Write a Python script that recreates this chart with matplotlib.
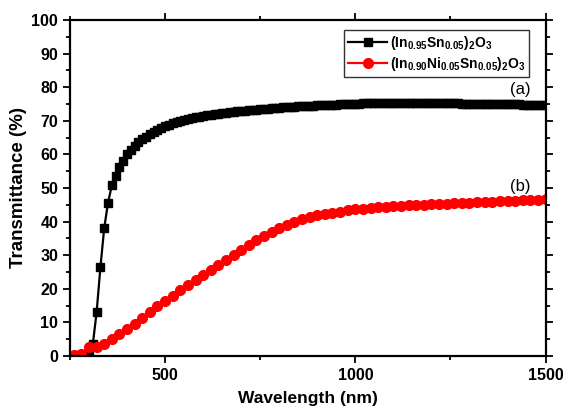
import numpy as np
import matplotlib
matplotlib.use("Agg")
import matplotlib.pyplot as plt
from matplotlib.ticker import MultipleLocator

plt.rcParams['font.family'] = ['Liberation Sans', 'DejaVu Sans']
plt.rcParams['mathtext.fontset'] = 'custom'
plt.rcParams['mathtext.rm'] = 'Liberation Sans'
plt.rcParams['mathtext.bf'] = 'Liberation Sans:bold'
plt.rcParams['mathtext.it'] = 'Liberation Sans:italic'

# ---- data ----
wl_a = list(range(300, 1501, 10))
T_a = [0.3, 3.5, 13.0, 26.4, 38.1, 45.6, 50.8, 53.7, 56.2, 58.0,
       60.0, 61.4, 62.6, 63.6, 64.5, 65.3, 66.0, 66.7, 67.3, 67.9,
       68.4, 68.8, 69.2, 69.6, 69.9, 70.2, 70.5, 70.8, 71.0, 71.2,
       71.4, 71.6, 71.8, 72.0, 72.1, 72.3, 72.4, 72.6, 72.7, 72.8,
       72.9, 73.0, 73.1, 73.2, 73.3, 73.4, 73.5, 73.6, 73.7, 73.8,
       73.9, 74.0, 74.0, 74.1, 74.2, 74.3, 74.3, 74.4, 74.5, 74.5,
       74.6, 74.6, 74.7, 74.7, 74.8, 74.8, 74.9, 74.9, 75.0, 75.0,
       75.1, 75.1, 75.2, 75.2, 75.2, 75.3, 75.3, 75.3, 75.3, 75.4,
       75.4, 75.4, 75.4, 75.4, 75.4, 75.4, 75.4, 75.3, 75.3, 75.3,
       75.3, 75.3, 75.3, 75.2, 75.2, 75.2, 75.2, 75.2, 75.1, 75.1,
       75.1, 75.1, 75.1, 75.0, 75.0, 75.0, 75.0, 75.0, 75.0, 74.9,
       74.9, 74.9, 74.9, 74.9, 74.8, 74.8, 74.8, 74.8, 74.7, 74.7,
       74.7]

wl_b = list(range(260, 1501, 20))
T_b = [0.3, 0.6, 2.8, 2.8, 3.6, 5.0, 6.5, 8.0, 9.6, 11.2,
       13.0, 14.8, 16.4, 17.9, 19.5, 21.0, 22.6, 24.1, 25.6, 27.1,
       28.6, 30.1, 31.5, 33.0, 34.4, 35.7, 36.9, 38.0, 39.0, 39.9,
       40.7, 41.3, 41.9, 42.3, 42.7, 43.0, 43.3, 43.6, 43.8, 44.0,
       44.2, 44.4, 44.5, 44.7, 44.8, 44.9, 45.0, 45.1, 45.2, 45.3,
       45.4, 45.5, 45.6, 45.7, 45.8, 45.9, 46.0, 46.1, 46.2, 46.3,
       46.4, 46.5, 46.6]

label_a = r'$\mathbf{(In_{0.95}Sn_{0.05})_{2}O_{3}}$'
label_b = r'$\mathbf{(In_{0.90}Ni_{0.05}Sn_{0.05})_{2}O_{3}}$'

fig = plt.figure(figsize=(5.63, 4.08), dpi=100)
ax = fig.add_axes([0.1243, 0.1275, 0.8447, 0.8235])

ax.plot(wl_a, T_a, color='black', marker='s', markersize=5.5, linewidth=1.6,
        label=label_a)
ax.plot(wl_b, T_b, color='red', marker='o', markersize=7, linewidth=1.6,
        label=label_b)

ax.set_xlim(250, 1500)
ax.set_ylim(0, 100)
ax.xaxis.set_major_locator(MultipleLocator(500))
ax.xaxis.set_minor_locator(MultipleLocator(250))
ax.yaxis.set_major_locator(MultipleLocator(10))
ax.yaxis.set_minor_locator(MultipleLocator(5))
ax.tick_params(which='both', direction='out', top=True, right=True,
               width=1.3, labelsize=11.5)
ax.tick_params(which='major', length=5)
ax.tick_params(which='minor', length=3)
for lab in ax.get_xticklabels() + ax.get_yticklabels():
    lab.set_fontweight('bold')
for s in ax.spines.values():
    s.set_linewidth(1.6)

ax.set_xlabel('Wavelength (nm)', fontsize=12.5, fontweight='bold', labelpad=6)
ax.set_ylabel('Transmittance (%)', fontsize=13.5, fontweight='bold', labelpad=3)

ax.text(1460, 79.2, '(a)', fontsize=12, ha='right', va='center')
ax.text(1460, 50.3, '(b)', fontsize=12, ha='right', va='center')

leg = ax.legend(loc='upper right', bbox_to_anchor=(0.972, 0.978), fontsize=10,
                frameon=True, fancybox=False, edgecolor='black',
                borderpad=0.3, handlelength=2.8, handletextpad=0.2,
                labelspacing=0.2, borderaxespad=0.2)
leg.get_frame().set_linewidth(1.0)

fig.savefig('out.png', dpi=100)
